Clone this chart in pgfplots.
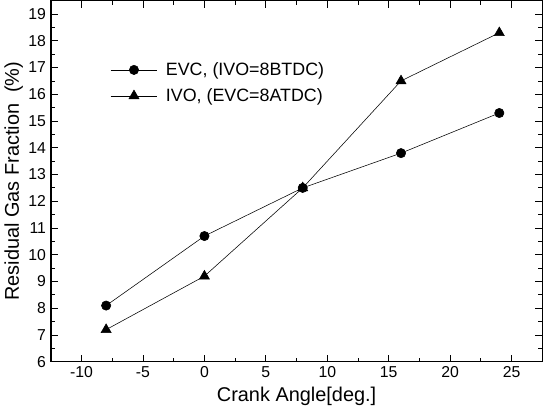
\documentclass[border=0pt]{standalone}
\usepackage{fontspec}
\setmainfont{Liberation Sans}
\usepackage{pgfplots}
\pgfplotsset{compat=1.18}

\begin{document}
\begin{tikzpicture}
\begin{axis}[
  scale only axis,
  width=358pt, height=263pt,
  xmin=-12.5, xmax=27.5,
  ymin=6, ymax=19.5,
  xtick={-10,-5,0,5,10,15,20,25},
  ytick={6,7,...,19},
  minor x tick num=1,
  minor y tick num=1,
  tick align=inside,
  major tick length=5pt,
  minor tick length=3pt,
  axis line style={line width=1pt},
  tick style={black, line width=0.6pt},
  ticklabel style={font=\fontsize{11.5}{13}\selectfont},
  /pgf/number format/assume math mode=true,
  xlabel={Crank Angle[deg.]},
  ylabel={Residual Gas Fraction\ \ (\%)},
  label style={font=\fontsize{14.5}{16}\selectfont},
  ylabel style={yshift=-3pt},
  legend style={draw=none, fill=none, at={(0.112,0.845)}, anchor=north west,
    font=\fontsize{13}{15}\selectfont, row sep=4pt,
    /tikz/every odd column/.append style={column sep=4pt}},
  legend cell align=left,
  legend image code/.code={
    \draw[mark repeat=2, mark phase=2, #1]
      plot coordinates {(0cm,0cm) (0.6cm,0cm) (1.2cm,0cm)};
  },
]
\addplot[black, thin, mark=*, mark size=3.4pt] coordinates {
  (-8,8.1)(0,10.7)(8,12.5)(16,13.8)(24,15.3)
};
\addlegendentry{EVC, (IVO=8BTDC)}
\addplot[black, thin, mark=triangle*, mark size=4.2pt] coordinates {
  (-8,7.2)(0,9.2)(8,12.5)(16,16.5)(24,18.3)
};
\addlegendentry{IVO, (EVC=8ATDC)}
\end{axis}
\end{tikzpicture}
\end{document}
